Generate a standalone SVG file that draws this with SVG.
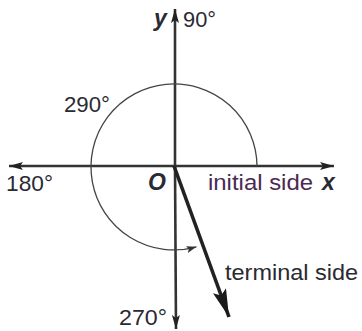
<svg xmlns="http://www.w3.org/2000/svg" width="362" height="331" viewBox="0 0 362 331">
<style>
.lbl{font-family:"Liberation Sans",Arial,sans-serif;font-size:22px;fill:#2a2a33}
.var{font-family:"Liberation Sans",Arial,sans-serif;font-size:23px;font-weight:bold;font-style:italic;fill:#2a2a33}
.axis{stroke:#333;stroke-width:2.6;fill:none}
.circ{stroke:#444;stroke-width:1.3;fill:none}
.term{stroke:#222;stroke-width:3.6;fill:none}
</style>
<defs>
<marker id="ah" viewBox="0 0 14 8" refX="14" refY="4" markerWidth="14" markerHeight="8" markerUnits="userSpaceOnUse" orient="auto">
<path d="M0,0 L14,4 L0,8 L3,4 Z" fill="#222"/>
</marker>
<marker id="ahs" viewBox="0 0 10 7" refX="10" refY="3.5" markerWidth="10" markerHeight="7" markerUnits="userSpaceOnUse" orient="auto">
<path d="M0,0 L10,3.5 L0,7 L2,3.5 Z" fill="#333"/>
</marker>
<marker id="aht" viewBox="0 0 28 14" refX="28" refY="7" markerWidth="28" markerHeight="14" markerUnits="userSpaceOnUse" orient="auto">
<path d="M0,0 L28,7 L0,14 L5,7 Z" fill="#1a1a1a"/>
</marker>
</defs>
<g id="connectors">
<line id="x-axis-left" class="axis" x1="174" y1="166" x2="9" y2="166" marker-end="url(#ah)"/>
<line id="x-axis-right" class="axis" x1="174" y1="166" x2="334" y2="166" marker-end="url(#ah)"/>
<line id="y-axis-up" class="axis" x1="175" y1="166" x2="175" y2="9" marker-end="url(#ah)"/>
<line id="y-axis-down" class="axis" x1="175" y1="166" x2="176" y2="329" marker-end="url(#ah)"/>
<path id="angle-arc" class="circ" d="M257,166 A83,83 0 1 0 196.5,246.8" marker-end="url(#ahs)"/>
<line id="terminal-side" class="term" x1="174" y1="166" x2="229" y2="317" marker-end="url(#aht)"/>
</g>
<g id="label-y"><text class="var" x="154" y="26">y</text></g>
<g id="label-90"><text class="lbl" x="183" y="27" textLength="33" lengthAdjust="spacingAndGlyphs">90°</text></g>
<g id="label-290"><text class="lbl" x="64" y="112" textLength="46" lengthAdjust="spacingAndGlyphs">290°</text></g>
<g id="label-180"><text class="lbl" x="6" y="191" textLength="47" lengthAdjust="spacingAndGlyphs">180°</text></g>
<g id="label-O"><text class="var" x="148" y="190">O</text></g>
<g id="label-initial"><text class="lbl" x="208" y="190" textLength="105" lengthAdjust="spacingAndGlyphs" style="fill:#4a2a55">initial side</text></g>
<g id="label-x"><text class="var" x="322" y="190">x</text></g>
<g id="label-terminal"><text class="lbl" x="225" y="280" textLength="133" lengthAdjust="spacingAndGlyphs">terminal side</text></g>
<g id="label-270"><text class="lbl" x="119" y="325" textLength="48" lengthAdjust="spacingAndGlyphs">270°</text></g>
</svg>
